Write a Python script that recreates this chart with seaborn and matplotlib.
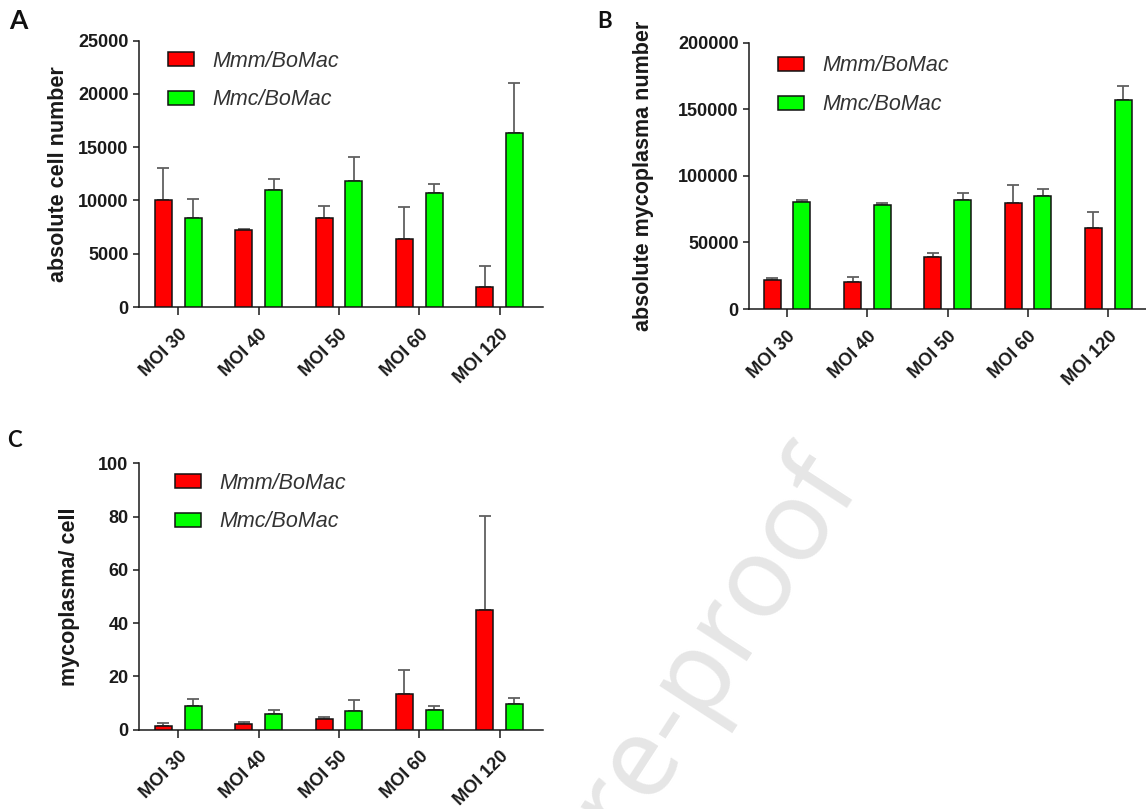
import numpy as np
import pandas as pd
import matplotlib
matplotlib.use("Agg")
import matplotlib.pyplot as plt
from matplotlib.patches import Patch
from matplotlib.transforms import ScaledTranslation
import seaborn as sns

# ---------------- data ----------------
categories = ["MOI 30", "MOI 40", "MOI 50", "MOI 60", "MOI 120"]
groups = ["Mmm/BoMac", "Mmc/BoMac"]
colors = ["#ff0000", "#00ff00"]

cell_mmm = [10000, 7200, 8350, 6400, 1900]
cell_mmm_err = [3000, 150, 1150, 2950, 1900]
cell_mmc = [8350, 11000, 11850, 10700, 16350]
cell_mmc_err = [1800, 1050, 2250, 850, 4700]

myco_mmm = [22000, 20500, 39200, 79700, 60700]
myco_mmm_err = [1000, 3300, 2500, 13500, 12200]
myco_mmc = [80700, 77900, 82200, 84900, 157300]
myco_mmc_err = [1200, 1500, 5000, 5200, 10000]

ratio_mmm = [1.5, 2.0, 4.1, 13.4, 44.9]
ratio_mmm_err = [1.1, 0.75, 0.5, 9.1, 35.3]
ratio_mmc = [8.8, 6.0, 6.8, 7.5, 9.4]
ratio_mmc_err = [2.6, 1.5, 4.1, 1.3, 2.5]

cell_ticks = [0, 5000, 10000, 15000, 20000, 25000]
myco_ticks = [0, 50000, 100000, 150000, 200000]
ratio_ticks = [0, 20, 40, 60, 80, 100]

# ---------------- style ----------------
sns.set_theme(style="ticks")
plt.rcParams["font.family"] = ["Liberation Sans", "DejaVu Sans"]
plt.rcParams["axes.linewidth"] = 1.1

W, H = 1146, 809
fig = plt.figure(figsize=(W / 100, H / 100), dpi=100)
fig.patch.set_facecolor("white")


def px_axes(left, right, top, bottom):
    return [left / W, 1 - bottom / H, (right - left) / W, (bottom - top) / H]


def draw_panel(ax, mmm, mmm_err, mmc, mmc_err, yticks, ylabel, xlim,
               ylabel_x, leg_anchor):
    df = pd.DataFrame({
        "MOI": categories * 2,
        "group": [groups[0]] * len(categories) + [groups[1]] * len(categories),
        "value": mmm + mmc,
    })
    errs = [mmm_err, mmc_err]
    sns.barplot(data=df, x="MOI", y="value", hue="group", order=categories,
                hue_order=groups, palette=colors, saturation=1, width=0.74,
                gap=0.43, errorbar=None, edgecolor="#111111", linewidth=1.1,
                legend=False, ax=ax, zorder=3)
    for cont, e in zip(ax.containers, errs):
        xc = [b.get_x() + b.get_width() / 2 for b in cont]
        hv = [b.get_height() for b in cont]
        ax.errorbar(xc, hv, yerr=[np.zeros(len(e)), e], fmt="none",
                    ecolor="#606060", elinewidth=1.3, capsize=4.5,
                    capthick=1.3, zorder=2)
    ax.set_xlim(*xlim)
    ax.set_ylim(yticks[0], yticks[-1])
    ax.set_yticks(yticks)
    ax.set_yticklabels([str(t) for t in yticks], fontweight="bold",
                       fontsize=13, color="#1a1a1a")
    ax.set_xticks(range(len(categories)))
    ax.set_xticklabels(categories, rotation=45, ha="right", va="top",
                       rotation_mode="anchor", fontweight="bold",
                       fontsize=13, color="#1a1a1a")
    off = ScaledTranslation(2 / 100, 0, fig.dpi_scale_trans)
    for lab in ax.get_xticklabels():
        lab.set_transform(lab.get_transform() + off)
    ax.tick_params(axis="x", length=5.8, width=1.1, pad=7.5, color="#1a1a1a")
    ax.tick_params(axis="y", length=4.2, width=1.1, pad=3.5, color="#1a1a1a")
    ax.set_xlabel("")
    ax.set_ylabel(ylabel, fontsize=15.5, fontweight="bold", color="#1a1a1a")
    ax.yaxis.set_label_coords(ylabel_x, 0.5)
    sns.despine(ax=ax)
    for s in ("left", "bottom"):
        ax.spines[s].set_color("#1a1a1a")
    ax.set_facecolor("none")
    handles = [Patch(facecolor=c, edgecolor="#111111", linewidth=1.1)
               for c in colors]
    ax.legend(handles, groups, loc="upper left", bbox_to_anchor=leg_anchor,
              frameon=False, borderpad=0, borderaxespad=0, handlelength=1.2,
              handleheight=0.62, handletextpad=0.85, labelspacing=0.82,
              prop={"style": "italic", "size": 15.5}, labelcolor="#333333")


axA = fig.add_axes(px_axes(139.3, 543, 40.5, 307))
axB = fig.add_axes(px_axes(749.3, 1151.7, 42.7, 309))
axC = fig.add_axes(px_axes(139.3, 543, 463.3, 729.5))

draw_panel(axA, cell_mmm, cell_mmm_err, cell_mmc, cell_mmc_err, cell_ticks,
           "absolute cell number", (-0.486, 4.54), -0.175, (0.071, 0.962))
draw_panel(axB, myco_mmm, myco_mmm_err, myco_mmc, myco_mmc_err, myco_ticks,
           "absolute mycoplasma number", (-0.47, 4.54), -0.236, (0.0713, 0.952))
draw_panel(axC, ratio_mmm, ratio_mmm_err, ratio_mmc, ratio_mmc_err, ratio_ticks,
           "mycoplasma/ cell", (-0.486, 4.54), -0.146, (0.088, 0.965))

# panel letters
letter_font = ["Lato", "Liberation Sans"]
fig.text(9 / W, 1 - 29.3 / H, "A", fontsize=19, fontweight="bold",
         family=letter_font, ha="left", va="baseline", color="#111111")
fig.text(597 / W, 1 - 28.3 / H, "B", fontsize=16, fontweight="bold",
         family=letter_font, ha="left", va="baseline", color="#111111")
fig.text(7 / W, 1 - 447.3 / H, "C", fontsize=16, fontweight="bold",
         family=letter_font, ha="left", va="baseline", color="#111111")

# watermark
fig.text(866 / W, 1 - 492 / H, "Journal Pre-proof", fontsize=80,
         family=["Noto Sans", "DejaVu Sans"], color="#e6e6e6", rotation=57,
         rotation_mode="anchor", ha="right", va="baseline", zorder=0)

fig.savefig("out.png", dpi=100)
